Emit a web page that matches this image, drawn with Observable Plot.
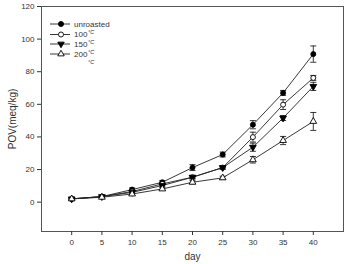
<!DOCTYPE html>
<html><head><meta charset="utf-8">
<script src="https://cdn.jsdelivr.net/npm/d3@7"></script>
<script src="https://cdn.jsdelivr.net/npm/@observablehq/plot@0.6"></script>
<style>body{margin:0;background:#fff;} svg{display:block;} g[aria-label="x-axis label"] text, g[aria-label="y-axis label"] text{font-size:10px;}</style>
</head><body><div id="chart"></div>
<script>
const days = [0,5,10,15,20,25,30,35,40];
const seriesNames = ["unroasted","100","150","200"];
const unroasted = [2,3.4,7.7,12.2,21.2,29.2,47.5,67,90.8];
const t100 = [2,3.4,6.5,11.2,15.3,21.2,39.9,59.8,76.2];
const t150 = [2,3.4,6,10.2,15.3,21.2,33.7,51.6,71];
const t200 = [2,3,5,8.1,12.2,14.9,26,37.8,49.5];
const errUnroasted = [0.5,0.5,1,1,1.8,1.5,2.5,1.5,5];
const err100 = [0.5,0.5,0.8,0.8,1,1,3,3,1.5];
const err150 = [0.5,0.5,0.8,0.8,1,1,2.5,1.5,2.5];
const err200 = [0.5,0.5,0.8,0.8,1,1,2,2.5,5.5];
const xTicks = [0,5,10,15,20,25,30,35,40];
const yTicks = [0,20,40,60,80,100,120];

const vals = [unroasted,t100,t150,t200];
const errs = [errUnroasted,err100,err150,err200];
const style = {
  "unroasted": {symbol:"circle", fill:"black", rotate:0},
  "100": {symbol:"circle", fill:"white", rotate:0},
  "150": {symbol:"triangle", fill:"black", rotate:180},
  "200": {symbol:"triangle", fill:"white", rotate:0}
};
const data = [];
seriesNames.forEach((s,i)=>days.forEach((d,j)=>data.push({series:s, day:d, v:vals[i][j], e:errs[i][j]})));

const marks = [
  Plot.frame({stroke:"#555"}),
  Plot.axisX({ticks:xTicks, tickSize:4, label:"day", labelAnchor:"center", labelOffset:28, labelArrow:"none", tickPadding:4}),
  Plot.axisY({ticks:yTicks, tickSize:4, label:"POV(meq/kg)", labelAnchor:"center", labelOffset:33, labelArrow:"none", tickPadding:3}),
];
seriesNames.forEach(s=>{
  const sd = data.filter(d=>d.series===s);
  marks.push(Plot.line(sd,{x:"day",y:"v",stroke:"#222",strokeWidth:0.9}));
  marks.push(Plot.ruleX(sd,{x:"day",y1:d=>d.v-d.e,y2:d=>d.v+d.e,stroke:"#222",strokeWidth:0.9}));
  marks.push(Plot.link(sd,{x1:d=>d.day-0.5,x2:d=>d.day+0.5,y1:d=>d.v+d.e,y2:d=>d.v+d.e,stroke:"#222",strokeWidth:0.9}));
  marks.push(Plot.link(sd,{x1:d=>d.day-0.5,x2:d=>d.day+0.5,y1:d=>d.v-d.e,y2:d=>d.v-d.e,stroke:"#222",strokeWidth:0.9}));
});
seriesNames.forEach(s=>{
  const sd = data.filter(d=>d.series===s);
  const st = style[s];
  marks.push(Plot.dot(sd,{x:"day",y:"v",symbol:()=>st.symbol,fill:st.fill,stroke:"black",strokeWidth:0.9,r:2.5,rotate:st.rotate}));
});

const chart = Plot.plot({
  width:347, height:264,
  marginLeft:41, marginRight:4, marginTop:6, marginBottom:33,
  style:{fontFamily:"Liberation Sans, Arial, sans-serif", fontSize:"8px", color:"#333", background:"white"},
  x:{domain:[-5,45]},
  y:{domain:[-18,120]},
  symbol:{type:"identity"},
  marks
});
document.getElementById("chart").appendChild(chart);

// legend drawn inside the plot frame
const svg = d3.select(chart);
const lg = svg.append("g").attr("font-family","Liberation Sans, Arial, sans-serif").attr("font-size","8px").attr("fill","#333").attr("text-anchor","start");
const rowY = [24,34.5,44,54];
const symMap = {circle:d3.symbolCircle, triangle:d3.symbolTriangle};
seriesNames.forEach((s,i)=>{
  const y = rowY[i], st = style[s];
  lg.append("line").attr("x1",50).attr("x2",70).attr("y1",y).attr("y2",y).attr("stroke","#222").attr("stroke-width",0.9);
  lg.append("path").attr("d",d3.symbol(symMap[st.symbol], st.symbol==="circle"?20:18)())
    .attr("transform",`translate(61,${y}) rotate(${st.rotate})`).attr("fill",st.fill).attr("stroke","black").attr("stroke-width",0.9);
  lg.append("text").attr("x",74).attr("y",y).attr("dy","0.35em").text(s);
  if (s!=="unroasted") lg.append("text").attr("x",88).attr("y",y-0.5).attr("font-size","5.5px").attr("font-style","italic").text("°C");
});
lg.append("text").attr("x",88).attr("y",63.5).attr("font-size","5.5px").attr("font-style","italic").text("°C");
</script></body></html>
